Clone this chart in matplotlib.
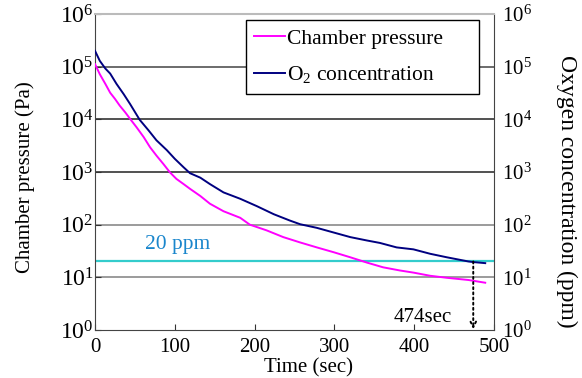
import matplotlib
matplotlib.use("Agg")
import matplotlib.pyplot as plt

plt.rcParams['font.family'] = ['Liberation Serif', 'DejaVu Serif']
plt.rcParams['mathtext.fontset'] = 'custom'
plt.rcParams['mathtext.rm'] = 'Liberation Serif'
plt.rcParams['mathtext.it'] = 'Liberation Serif:italic'

# values
t_press = [0, 6, 13, 19, 25, 31, 38, 44, 52, 61, 69, 77, 86, 94, 102, 111, 119, 132,
           144, 161, 182, 194, 215, 236, 257, 278, 299, 320, 341, 361, 382, 399, 420,
           441, 468, 489]
press = [112000, 72000, 47000, 32000, 24500, 18200, 13500, 10200, 7100, 4600, 2950,
         2050, 1400, 980, 740, 590, 480, 350, 250, 180, 135, 100, 78, 58, 46, 37, 30,
         24, 19, 15.5, 13.5, 12.3, 10.7, 9.8, 8.9, 7.9]

t_o2 = [0, 6, 13, 19, 27, 36, 44, 56, 67, 77, 90, 100, 111, 119, 132, 144, 161, 182,
        203, 224, 244, 257, 278, 299, 320, 341, 357, 378, 399, 420, 441, 468, 474, 489]
o2 = [200000, 129000, 92000, 74000, 47000, 30000, 19500, 9800, 6200, 4000, 2600, 1780,
      1230, 950, 780, 590, 410, 310, 224, 158, 120, 102, 87, 71, 58, 50, 45, 37, 34, 28,
      24, 20, 19.5, 18.6]

limit_ppm = 20
t_reach = 474
xticks = [0, 100, 200, 300, 400, 500]
yticks = [1, 10, 100, 1e3, 1e4, 1e5, 1e6]

fig = plt.figure(figsize=(5.82, 3.78), dpi=100)
ax = fig.add_axes([95 / 582, 48 / 378, 399 / 582, 316 / 378])

for y, c in zip([1e1, 1e2, 1e3, 1e4, 1e5], ['#808080', '#808080', '#222222', '#222222', '#444444']):
    ax.axhline(y, color=c, lw=1.1, zorder=1)

ax.plot(t_press, press, color='#ff00ff', lw=1.4, label='Chamber pressure', zorder=3)
ax.plot(t_o2, o2, color='#000080', lw=1.4, label='O$_2$ concentration', zorder=3)
ax.axhline(limit_ppm, color='#33cccc', lw=1.6, zorder=2)

ax.text(63, 35, '20 ppm', color='#1a86cc', fontsize=15.5, ha='left', va='baseline')
ax.annotate('', xy=(t_reach, 1.03), xytext=(t_reach, limit_ppm),
            arrowprops=dict(arrowstyle='->', linestyle=':', color='black', lw=1.4,
                            shrinkA=0, shrinkB=0))
ax.text(447, 1.44, f'{t_reach}sec', fontsize=15, ha='right', va='baseline')

ax.set_yscale('log')
ax.set_xlim(0, 500)
ax.set_ylim(1, 1e6)
ax.set_xticks(xticks)
ax.set_yticks(yticks)
ax.minorticks_off()
ax.tick_params(direction='in', length=4, colors='#333333', labelcolor='black')
ax.tick_params(axis='x', labelsize=15, pad=6)
ax.tick_params(axis='y', labelsize=17, pad=1)

for s in ['left', 'bottom', 'right']:
    ax.spines[s].set_color('#444444')
ax.spines['top'].set_color('#bbbbbb')
ax.spines['top'].set_linewidth(1.5)

ax2 = ax.twinx()
ax2.set_yscale('log')
ax2.set_ylim(1, 1e6)
ax2.set_yticks(yticks)
ax2.minorticks_off()
ax2.tick_params(direction='in', length=0, labelsize=15, pad=6)
for s in ax2.spines.values():
    s.set_visible(False)

fig.text(25 / 582, 1 - 177.5 / 378, 'Chamber pressure (Pa)', fontsize=15,
         rotation=90, ha='center', va='center')
fig.text(567 / 582, 1 - 191.5 / 378, 'Oxygen concentration (ppm)', fontsize=17,
         rotation=270, ha='center', va='center')
fig.text(308 / 582, 1 - 368 / 378, 'Time (sec)', fontsize=15, ha='center', va='center')

leg = ax.legend(loc='upper left', bbox_to_anchor=(0.378, 0.753, 0.584, 0.228),
                mode='expand', fontsize=15.5,
                fancybox=False, edgecolor='black', framealpha=1,
                handlelength=1.4, handletextpad=0.1, borderpad=0.4, labelspacing=0.72,
                borderaxespad=0)
leg.get_frame().set_linewidth(1.0)
leg.set_zorder(5)

fig.savefig('out.png', dpi=100)
